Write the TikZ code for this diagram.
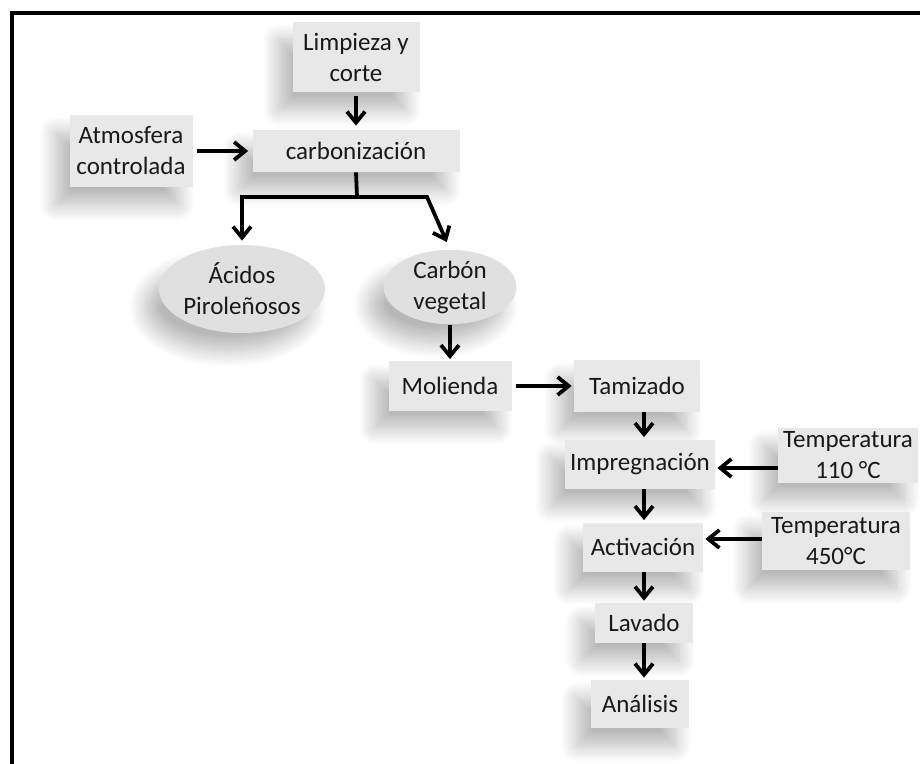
\documentclass[tikz,border=0pt]{standalone}
\usepackage{fontspec}
\setmainfont{Carlito}
\usetikzlibrary{arrows.meta,shapes.geometric,shadows.blur}

\begin{document}
\begin{tikzpicture}[x=.5pt, y=-.5pt,
		box/.style={draw=none, fill=black!9, align=center, inner sep=0pt, text=black!90,
			font=\fontsize{12.5}{15.5}\selectfont,
			blur shadow={shadow xshift=-7pt, shadow yshift=-9pt, shadow blur radius=8pt, shadow blur steps=16, shadow opacity=28}},
		oval/.style={box, ellipse, fill=black!12},
		arr/.style={line width=1.9pt, -{Straight Barb[length=5.5pt, width=9pt, line width=1.9pt]}}]
			\useasboundingbox (0,0) rectangle (920,764);
			\draw[line width=2pt] (11.5,764) -- (11.5,13.5) -- (920,13.5);

			\node[box, minimum width=63.5pt, minimum height=35pt] (limp) at (356,57) {Limpieza y\\corte};
			\node[box, minimum width=103.5pt, minimum height=21pt] (carb) at (356,151) {carbonización};
			\node[box, minimum width=61.5pt, minimum height=36pt] (atm) at (131,151) {Atmosfera\\controlada};
			\node[oval, minimum width=77.5pt, minimum height=44pt] (acid) at (242,289) {Ácidos\\Piroleñosos};
			\node[oval, minimum width=66.5pt, minimum height=36.5pt] (veg) at (450,287) {Carbón\\vegetal};
			\node[box, minimum width=61.5pt, minimum height=24.5pt] (mol) at (450,386) {Molienda};
			\node[box, minimum width=63pt, minimum height=26pt] (tam) at (637,386) {Tamizado};
			\node[box, minimum width=75pt, minimum height=24.5pt] (imp) at (640,464) {Impregnación};
			\node[box, minimum width=70pt, minimum height=27.5pt] (tA) at (848,455) {Temperatura\\110 °C};
			\node[box, minimum width=60pt, minimum height=24.5pt] (act) at (643,547) {Activación};
			\node[box, minimum width=74pt, minimum height=29pt] (tB) at (836,541) {Temperatura\\450°C};
			\node[box, minimum width=49pt, minimum height=20pt] (lav) at (644,623) {Lavado};
			\node[box, minimum width=49pt, minimum height=24pt] (ana) at (640,704) {Análisis};

			\coordinate (fork) at (357,197);
			\coordinate (bend) at (427,197);

			\draw[arr, shorten <=2pt, shorten >=2pt] (limp) -- (carb);
			\draw[arr, shorten <=2pt, shorten >=2pt] (atm) -- (carb);
			\draw[line width=1.9pt] (carb.south) -- (fork);
			\draw[arr, shorten >=2pt] (fork) -| (acid.north);
			\draw[arr, shorten >=4pt] (fork) -- (bend) -- (veg.north);
			\draw[arr, shorten >=1pt] (veg) -- (mol);
			\draw[arr, shorten <=2pt, shorten >=1pt] (mol) -- (tam);
			\draw[arr, shorten >=1pt] (tam.south -| lav) -- (imp.north -| lav);
			\draw[arr, shorten >=1pt] (imp.south -| lav) -- (act.north -| lav);
			\draw[arr, shorten >=1pt] (act.south -| lav) -- (lav.north);
			\draw[arr, shorten >=1pt] (lav.south) -- (ana.north -| lav);
			\draw[arr, shorten >=1pt] ([yshift=-2pt]tA.west |- imp.east) -- ([yshift=-2pt]imp.east);
			\draw[arr, shorten >=1pt] ([yshift=4pt]tB.west |- act.east) -- ([yshift=4pt]act.east);
		\end{tikzpicture}
\end{document}
